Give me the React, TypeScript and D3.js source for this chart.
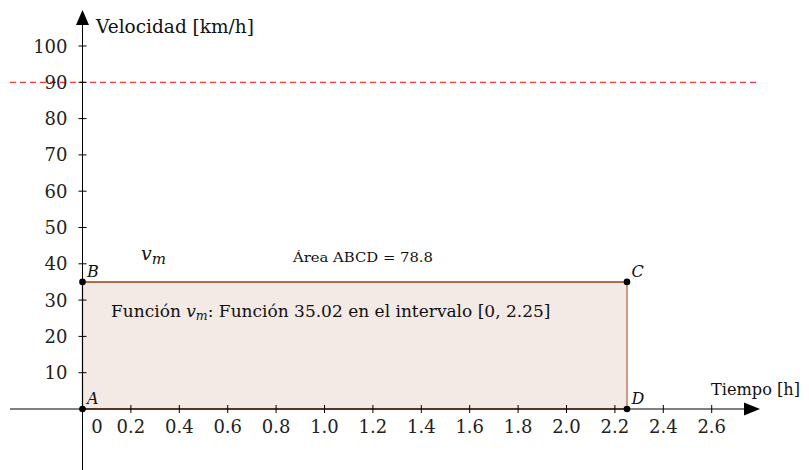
import React from "react";
import * as d3 from "d3";

// axis ticks
const xTicks = [0.2, 0.4, 0.6, 0.8, 1.0, 1.2, 1.4, 1.6, 1.8, 2.0, 2.2, 2.4, 2.6];
const yTicks = [10, 20, 30, 40, 50, 60, 70, 80, 90, 100];

// the rectangle ABCD (average speed over the interval)
const vm = 35.02;
const interval = [0, 2.25];
const limit = 90; // red dashed speed limit

const points = [
  { name: "A", t: 0, v: 0 },
  { name: "B", t: 0, v: 35.02 },
  { name: "C", t: 2.25, v: 35.02 },
  { name: "D", t: 2.25, v: 0 },
];

const W = 809,
  H = 470;

export default function App() {
  const x = d3.scaleLinear().domain([0, 2.6]).range([82.5, 82.5 + 2.6 * 242]);
  const y = d3.scaleLinear().domain([0, 100]).range([409, 46]);

  const font = "DejaVu Serif, serif";
  const x0 = x(0),
    y0 = y(0);

  return (
    <svg
      width={W}
      height={H}
      style={{ position: "absolute", left: 0, top: 0, background: "white" }}
    >
      {/* area */}
      <rect
        x={x(interval[0])}
        y={y(vm)}
        width={x(interval[1]) - x(interval[0])}
        height={y(0) - y(vm)}
        fill="#f3e9e5"
      />
      <line x1={x(interval[0])} x2={x(interval[0])} y1={y(vm)} y2={y(0)} stroke="#c27a5c" strokeWidth={1.5} />
      <line x1={x(interval[1])} x2={x(interval[1])} y1={y(vm)} y2={y(0)} stroke="#c27a5c" strokeWidth={1.5} />
      <line x1={x(interval[0])} x2={x(interval[1])} y1={y(vm)} y2={y(vm)} stroke="#993d14" strokeWidth={1.5} />
      <line x1={x(interval[0])} x2={x(interval[1])} y1={y(0)} y2={y(0)} stroke="#993d14" strokeWidth={1.5} />

      {/* red dashed line */}
      <line
        x1={10}
        x2={760}
        y1={y(limit)}
        y2={y(limit)}
        stroke="#ff0000"
        strokeWidth={1}
        strokeDasharray="6,4"
      />

      {/* axes */}
      <line x1={10} x2={748} y1={y0} y2={y0} stroke="black" strokeWidth={1} />
      <path d={`M${760},${y0} L${744},${y0 - 6.5} L${744},${y0 + 6.5} Z`} fill="black" />
      <line x1={x0} x2={x0} y1={H} y2={22} stroke="black" strokeWidth={1} />
      <path d={`M${x0},${10} L${x0 - 6.5},${25} L${x0 + 6.5},${25} Z`} fill="black" />

      {xTicks.map((t) => (
        <g key={"xt" + t}>
          <line x1={x(t)} x2={x(t)} y1={y0 - 4} y2={y0 + 4} stroke="black" />
          <text x={x(t)} y={433} textAnchor="middle" fontFamily={font} fontSize={18} fill="#222">
            {t.toFixed(1)}
          </text>
        </g>
      ))}
      <text x={97} y={433} textAnchor="middle" fontFamily={font} fontSize={18} fill="#222">
        0
      </text>
      {yTicks.map((t) => (
        <g key={"yt" + t}>
          <line x1={x0 - 4} x2={x0 + 4} y1={y(t)} y2={y(t)} stroke="black" />
          <text x={67.5} y={y(t) + 6.5} textAnchor="end" fontFamily={font} fontSize={18} fill="#222">
            {t}
          </text>
        </g>
      ))}

      <text x={96} y={33} fontFamily={font} fontSize={18} fill="#111" textLength={158} lengthAdjust="spacingAndGlyphs">
        Velocidad [km/h]
      </text>
      <text x={711} y={395} fontFamily={font} fontSize={17} fill="#111" textLength={89} lengthAdjust="spacingAndGlyphs">
        Tiempo [h]
      </text>

      {/* points */}
      {points.map((p) => (
        <g key={p.name}>
          <circle cx={x(p.t)} cy={y(p.v)} r={3.3} fill="black" />
          <text
            x={x(p.t) + 4.5}
            y={y(p.v) - 5}
            fontFamily={font}
            fontStyle="italic"
            fontSize={16}
            fill="#111"
          >
            {p.name}
          </text>
        </g>
      ))}

      <text x={141} y={260} fontFamily={font} fontStyle="italic" fontSize={19} fill="#111">
        v<tspan fontSize={15} dy={3.5}>m</tspan>
      </text>
      <text x={293} y={262} fontFamily={font} fontSize={13.5} fill="#111" textLength={140} lengthAdjust="spacingAndGlyphs">
        Área ABCD = 78.8
      </text>

      <text x={111} y={317} fontFamily={font} fontSize={17} fill="#111">
        Función <tspan fontStyle="italic">v</tspan>
        <tspan fontStyle="italic" fontSize={12.5} dy={3}>m</tspan>
        <tspan dy={-3}>: Función 35.02 en el intervalo [0, 2.25]</tspan>
      </text>
    </svg>
  );
}
